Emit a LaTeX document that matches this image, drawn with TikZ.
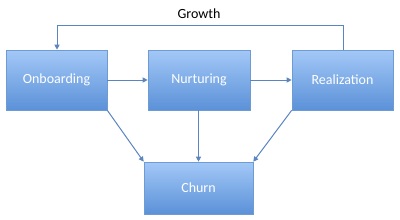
\documentclass[tikz,border=0pt]{standalone}
\usepackage{fontspec}
\setmainfont{Carlito}
\usetikzlibrary{arrows.meta,shadows}
\definecolor{boxtop}{HTML}{A3C8F7}
\definecolor{boxbot}{HTML}{5B91D8}
\definecolor{boxline}{HTML}{6E9BD2}
\definecolor{arr}{HTML}{5A85C0}
\tikzset{
  stage/.style={rectangle, draw=boxline, line width=0.6pt, top color=boxtop, bottom color=boxbot,
    text=white, font=\fontsize{14}{16}\selectfont, inner sep=0pt,
    drop shadow={shadow xshift=0.8pt, shadow yshift=-1pt, opacity=0.25}},
  link/.style={draw=arr, line width=1pt, -{Triangle[length=5pt,width=5pt]}}
}
\begin{document}
\begin{tikzpicture}[x=1pt,y=-1pt]
\useasboundingbox (0,0) rectangle (400,220);
\node[stage, minimum width=101pt, minimum height=60pt] (onb) at (56.5,80) {Onboarding};
\node[stage, minimum width=102pt, minimum height=60pt] (nur) at (199,80) {Nurturing};
\node[stage, minimum width=101pt, minimum height=60pt] (rea) at (342.5,80) {Realization};
\node[stage, minimum width=109pt, minimum height=52pt] (chu) at (198.5,188) {Churn};
\node[font=\fontsize{14}{16}\selectfont] (gro) at (199,14) {Growth};
\coordinate (gl) at (57,25);
\coordinate (gr) at (343,25);
\draw[link] (rea.north -| gr) -- (gr) -- (gl) -- (onb.north -| gl);
\draw[link] (onb) -- (nur);
\draw[link] (nur) -- (rea);
\draw[link] (onb.south east) -- (chu.north west);
\draw[link] (nur.south -| chu.north) -- (chu.north);
\draw[link] (rea.south west) -- (chu.north east);
\end{tikzpicture}
\end{document}
